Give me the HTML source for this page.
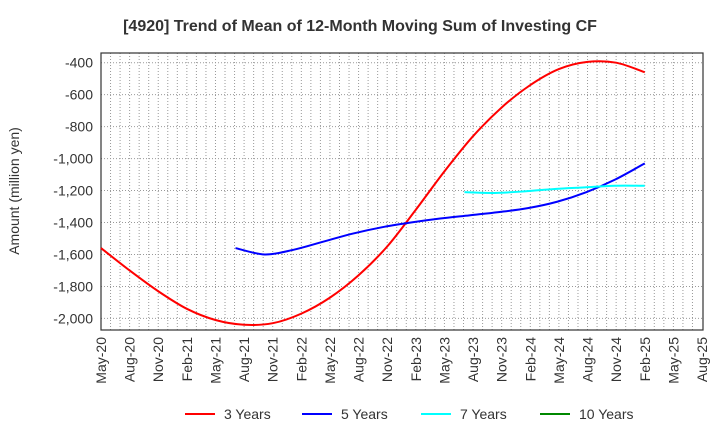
<!DOCTYPE html>
<html><head><meta charset="utf-8"><style>
body{margin:0;background:#fff;font-family:"Liberation Sans",sans-serif}
svg text{font-family:"Liberation Sans",sans-serif}
</style></head><body>
<svg id="chart" width="720" height="440">
<text x="360" y="31" text-anchor="middle" font-size="16" font-weight="bold" fill="#333">[4920]  Trend of Mean of 12-Month Moving Sum of Investing CF</text>
<text transform="translate(19,191) rotate(-90)" text-anchor="middle" font-size="14" fill="#333">Amount (million yen)</text>
<g id="grid"></g><g id="axes"></g><g id="series"></g>
<g>
<g><line x1="185" y1="414" x2="215" y2="414" stroke="#f00" stroke-width="2"/><text x="224" y="419" font-size="14" fill="#333">3 Years</text></g>
<g><line x1="302" y1="414" x2="332" y2="414" stroke="#00f" stroke-width="2"/><text x="341" y="419" font-size="14" fill="#333">5 Years</text></g>
<g><line x1="421" y1="414" x2="451" y2="414" stroke="#0ff" stroke-width="2"/><text x="460" y="419" font-size="14" fill="#333">7 Years</text></g>
<g><line x1="540" y1="414" x2="570" y2="414" stroke="#080" stroke-width="2"/><text x="579" y="419" font-size="14" fill="#333">10 Years</text></g>
</g>
</svg>
<script>
const xLabels=["May-20","Aug-20","Nov-20","Feb-21","May-21","Aug-21","Nov-21","Feb-22","May-22","Aug-22","Nov-22","Feb-23","May-23","Aug-23","Nov-23","Feb-24","May-24","Aug-24","Nov-24","Feb-25","May-25","Aug-25"];
const yTicks=[-400,-600,-800,-1000,-1200,-1400,-1600,-1800,-2000];
const yTickLabels=["-400","-600","-800","-1,000","-1,200","-1,400","-1,600","-1,800","-2,000"];
const series3y=[-1560,-1700,-1830,-1940,-2010,-2040,-2030,-1970,-1870,-1730,-1550,-1320,-1080,-860,-680,-540,-440,-395,-400,-460];
const start3y=0;
const series5y=[-1560,-1600,-1570,-1520,-1470,-1430,-1400,-1375,-1355,-1335,-1310,-1270,-1210,-1130,-1030];
const start5y=4.7;
const series7y=[-1210,-1215,-1205,-1190,-1180,-1170,-1170];
const start7y=12.7;
const series10y=[];
const start10y=0;

const L=101,R=703,T=53,B=330;
const x0=101,xStep=(702-101)/63;
const xQ=i=>x0+i*3*xStep;
const y=v=>62.7+(-400-v)/1600*255.7;
const NS="http://www.w3.org/2000/svg";
function mk(tag,attrs,parent){const e=document.createElementNS(NS,tag);for(const k in attrs)e.setAttribute(k,attrs[k]);parent.appendChild(e);return e;}
const grid=document.getElementById('grid'),axes=document.getElementById('axes'),ser=document.getElementById('series');
mk('rect',{x:L,y:T,width:R-L,height:B-T,fill:'#fff'},grid);
for(let m=1;m<63;m++){const xx=x0+m*xStep;const l=mk('line',{x1:xx,y1:T,x2:xx,y2:B,stroke:'#999','stroke-dasharray':'1,2','stroke-width':1},grid);

}
yTicks.forEach((v,i)=>{const yy=y(v);
const l=mk('line',{x1:L,y1:yy,x2:R,y2:yy,stroke:'#999','stroke-dasharray':'1,2'},grid);


const t=mk('text',{x:L-8,y:yy+5,'text-anchor':'end','font-size':14,fill:'#333'},axes);t.textContent=yTickLabels[i];

});
xLabels.forEach((s,i)=>{const xx=xQ(i);
const t=mk('text',{transform:`translate(${xx+5},337) rotate(-90)`,'text-anchor':'end','font-size':14,fill:'#333'},axes);t.textContent=s;

});
const fr=mk('rect',{x:L,y:T,width:R-L,height:B-T,fill:'none',stroke:'#333','stroke-width':1.2},axes);


function path(vals,start,color,name){if(!vals.length)return;
const endX=xQ(19);
const p=vals.map((v,i)=>[start===0?xQ(i):xQ(start)+(endX-xQ(start))*i/(vals.length-1),y(v)]);
let d=`M${p[0][0]},${p[0][1]}`;
for(let i=0;i<p.length-1;i++){const a=p[i-1]||p[i],b=p[i],c=p[i+1],e=p[i+2]||c;
d+=` C${b[0]+(c[0]-a[0])/6},${b[1]+(c[1]-a[1])/6} ${c[0]-(e[0]-b[0])/6},${c[1]-(e[1]-b[1])/6} ${c[0]},${c[1]}`;}
const el=mk('path',{d,fill:'none',stroke:color,'stroke-width':2},ser);

}
path(series3y,start3y,'#f00','line-3-years');
path(series5y,start5y,'#00f','line-5-years');
path(series7y,start7y,'#0ff','line-7-years');
path(series10y,start10y,'#080','line-10-years');
</script>
</body></html>
